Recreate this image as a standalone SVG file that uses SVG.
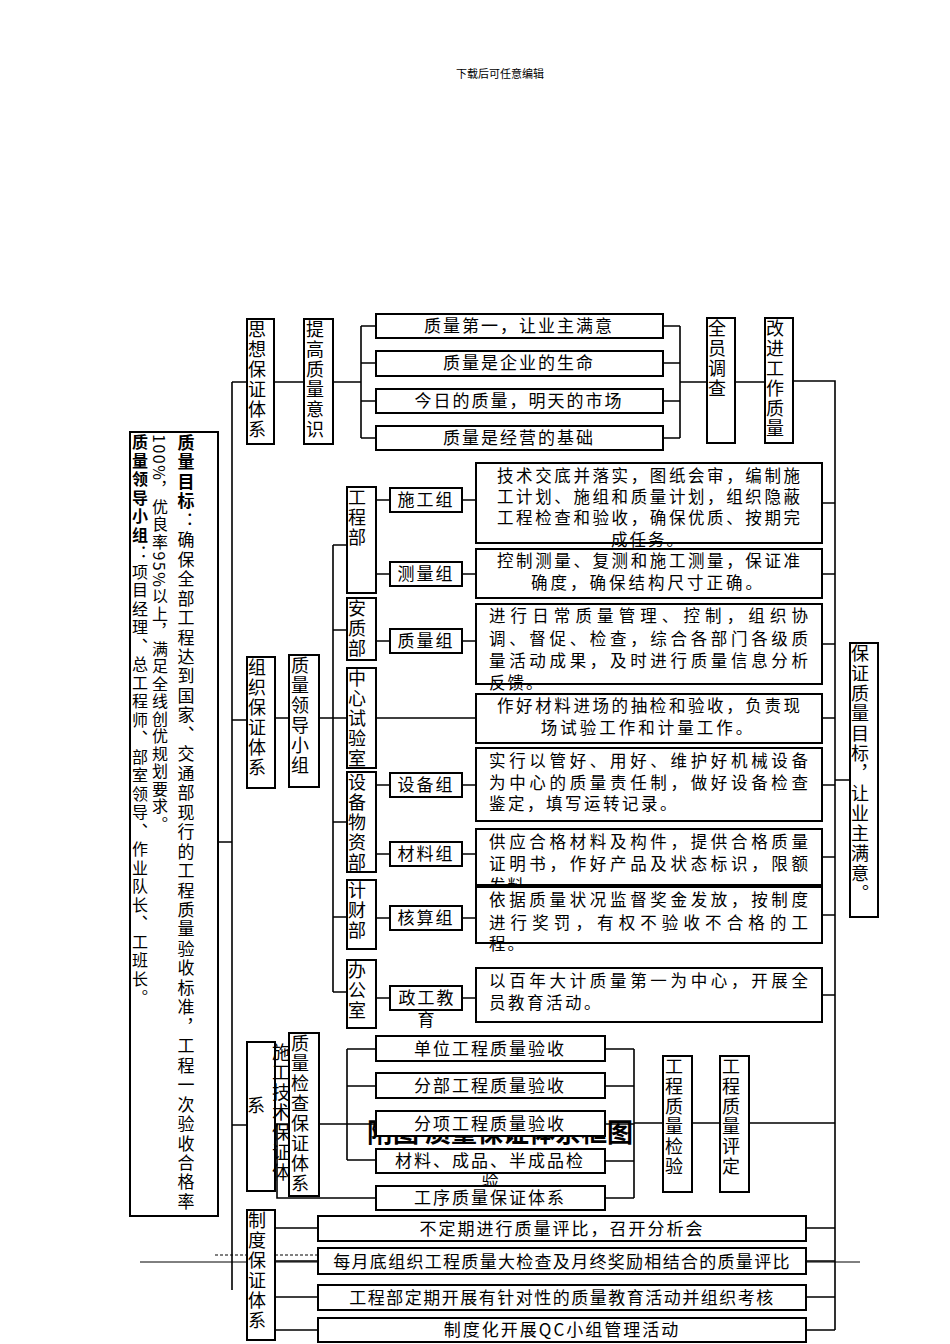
<svg xmlns="http://www.w3.org/2000/svg" width="950" height="1344" viewBox="0 0 950 1344">
<style>
text{font-family:"Noto Sans CJK SC","Noto Sans",sans-serif;fill:#000}
.b{fill:#fff;stroke:#000;stroke-width:2}
.l{fill:none;stroke:#000;stroke-width:1.6}
.h{font-size:17px;text-anchor:middle}
.t{font-size:16.5px}
.v{font-size:18px;writing-mode:vertical-rl;letter-spacing:2px}
.vs{font-size:16px;writing-mode:vertical-rl;letter-spacing:2px}
</style>
<rect width="950" height="1344" fill="#fff"/>
<text x="500" y="78" font-size="11" text-anchor="middle">下载后可任意编辑</text>
<text x="500" y="1142" font-size="26" font-weight="bold" text-anchor="middle">附图  质量保证体系框图</text>
<g id="footer">
<line x1="140" y1="1262" x2="860" y2="1262" stroke="#000" stroke-width="1"/>
<line x1="215" y1="1255" x2="320" y2="1255" stroke="#000" stroke-width="1" stroke-dasharray="3,2"/>
</g>
<g id="connectors" class="l">
<path d="M232 382V1290M218 842H232"/>
<path d="M232 382H247M274 382H304M333 382H361M361 326V438M361 326H376M361 363H376M361 401H376M361 438H376"/>
<path d="M663 326H680M663 363H680M663 401H680M663 438H680M680 326V438M680 382H707M735 382H765M793 381H835V1330"/>
<path d="M232 720H247M275 718H289M319 718H333M333 545V992"/>
<path d="M333 545H347M333 630H347M333 718H476M333 822H347M333 917H347M333 992H347"/>
<path d="M376 500H390M376 574H390M376 641H390M376 785H390M376 854H390M376 918H390M376 998H390"/>
<path d="M462 500H476M462 574H476M462 641H476M462 785H476M462 854H476M462 918H476M462 998H476"/>
<path d="M822 503H835M822 574H835M822 644H835M822 718H835M822 785H835M822 857H835M822 915H835M822 995H835M835 780H850"/>
<path d="M232 1125H247M275 1124H289M319 1124H347M347 1049V1160M347 1049H376M347 1086H376M347 1124H376M347 1160H376M277 1124V1198H376"/>
<path d="M605 1049H634M605 1086H634M605 1124H634M605 1161H634M605 1198H634M634 1049V1198M634 1123H663M692 1123H720M749 1123H835"/>
<path d="M275 1228H318M275 1261H318M275 1297H318M275 1330H318M806 1228H835M806 1261H835M806 1297H835M806 1330H835"/>
</g>
<g id="goal">
<rect class="b" x="130" y="432" width="88" height="784"/>
<text x="186" y="434" class="vs" textLength="776" lengthAdjust="spacing" style="letter-spacing:0;font-size:17px"><tspan font-weight="bold">质量目标</tspan>：确保全部工程达到国家、交通部现行的工程质量验收标准，工程一次验收合格率</text>
<text x="160" y="434" class="vs" style="letter-spacing:1.5px">100%，优良率95%以上，满足全线创优规划要求。</text>
<text x="140" y="434" class="vs" style="letter-spacing:2.5px"><tspan font-weight="bold">质量领导小组</tspan>：项目经理、总工程师、部室领导、作业队长、工班长。</text>
</g>
<g id="sixiang"><rect class="b" x="247" y="319" width="27" height="125"/><text x="257" y="320" class="v">思想保证体系</text></g>
<g id="tigao"><rect class="b" x="304" y="319" width="29" height="125"/><text x="315" y="320" class="v">提高质量意识</text></g>
<g id="s1"><rect class="b" x="376" y="314" width="287" height="24"/><text x="519" y="332" class="h" letter-spacing="2">质量第一，让业主满意</text></g>
<g id="s2"><rect class="b" x="376" y="351" width="287" height="25"/><text x="519" y="369" class="h" letter-spacing="2">质量是企业的生命</text></g>
<g id="s3"><rect class="b" x="376" y="389" width="287" height="24"/><text x="519" y="407" class="h" letter-spacing="2">今日的质量，明天的市场</text></g>
<g id="s4"><rect class="b" x="376" y="426" width="287" height="24"/><text x="519" y="444" class="h" letter-spacing="2">质量是经营的基础</text></g>
<g id="quanyuan"><rect class="b" x="707" y="318" width="28" height="125"/><text x="717" y="319" class="v">全员调查</text></g>
<g id="gaijin"><rect class="b" x="765" y="318" width="28" height="125"/><text x="775" y="319" class="v">改进工作质量</text></g>
<g id="zuzhi"><rect class="b" x="247" y="657" width="28" height="131"/><text x="257" y="658" class="v">组织保证体系</text></g>
<g id="lingdao"><rect class="b" x="289" y="655" width="30" height="132"/><text x="300" y="656" class="v">质量领导小组</text></g>
<g id="gcb"><rect class="b" x="347" y="487" width="29" height="106"/><text x="357" y="488" class="v">工程部</text></g>
<g id="azb"><rect class="b" x="347" y="598" width="29" height="62"/><text x="357" y="599" class="v">安质部</text></g>
<g id="syz"><rect class="b" x="347" y="668" width="29" height="100"/><text x="357" y="669" class="v">中心试验室</text></g>
<g id="sbwz"><rect class="b" x="347" y="772" width="29" height="100"/><text x="357" y="773" class="v">设备物资部</text></g>
<g id="jcb"><rect class="b" x="347" y="880" width="29" height="69"/><text x="357" y="881" class="v">计财部</text></g>
<g id="bgs"><rect class="b" x="347" y="960" width="29" height="68"/><text x="357" y="961" class="v">办公室</text></g>
<g id="g1"><rect class="b" x="390" y="488" width="72" height="24"/><text x="426" y="506" class="h" letter-spacing="2">施工组</text></g>
<g id="g2"><rect class="b" x="390" y="562" width="72" height="24"/><text x="426" y="580" class="h" letter-spacing="2">测量组</text></g>
<g id="g3"><rect class="b" x="390" y="629" width="72" height="24"/><text x="426" y="647" class="h" letter-spacing="2">质量组</text></g>
<g id="g4"><rect class="b" x="390" y="773" width="72" height="24"/><text x="426" y="791" class="h" letter-spacing="2">设备组</text></g>
<g id="g5"><rect class="b" x="390" y="842" width="72" height="24"/><text x="426" y="860" class="h" letter-spacing="2">材料组</text></g>
<g id="g6"><rect class="b" x="390" y="906" width="72" height="24"/><text x="426" y="924" class="h" letter-spacing="2">核算组</text></g>
<g id="g7"><rect class="b" x="390" y="986" width="72" height="24"/><text x="427" y="1004" class="h" letter-spacing="2">政工教</text><text x="426" y="1026" class="h">育</text></g>
<g id="d1"><rect class="b" x="476" y="463" width="346" height="80"/>
<text class="t" x="497" y="482" textLength="303" lengthAdjust="spacing">技术交底并落实，图纸会审，编制施</text>
<text class="t" x="497" y="503" textLength="303" lengthAdjust="spacing">工计划、施组和质量计划，组织隐蔽</text>
<text class="t" x="497" y="524" textLength="303" lengthAdjust="spacing">工程检查和验收，确保优质、按期完</text>
<text class="t" x="648" y="546" text-anchor="middle" letter-spacing="2">成任务。</text></g>
<g id="d2"><rect class="b" x="476" y="549" width="346" height="49"/>
<text class="t" x="497" y="567" textLength="303" lengthAdjust="spacing">控制测量、复测和施工测量，保证准</text>
<text class="t" x="648" y="589" text-anchor="middle" letter-spacing="3">确度，确保结构尺寸正确。</text></g>
<g id="d3"><rect class="b" x="476" y="604" width="346" height="80"/>
<text class="t" x="489" y="622" textLength="319" lengthAdjust="spacing">进行日常质量管理、控制，组织协</text>
<text class="t" x="489" y="645" textLength="319" lengthAdjust="spacing">调、督促、检查，综合各部门各级质</text>
<text class="t" x="489" y="667" textLength="319" lengthAdjust="spacing">量活动成果，及时进行质量信息分析</text>
<text class="t" x="489" y="689" letter-spacing="2">反馈。</text></g>
<g id="d4"><rect class="b" x="476" y="694" width="346" height="49"/>
<text class="t" x="497" y="712" textLength="303" lengthAdjust="spacing">作好材料进场的抽检和验收，负责现</text>
<text class="t" x="648" y="734" text-anchor="middle" letter-spacing="3">场试验工作和计量工作。</text></g>
<g id="d5"><rect class="b" x="476" y="748" width="346" height="73"/>
<text class="t" x="489" y="767" textLength="319" lengthAdjust="spacing">实行以管好、用好、维护好机械设备</text>
<text class="t" x="489" y="789" textLength="319" lengthAdjust="spacing">为中心的质量责任制，做好设备检查</text>
<text class="t" x="489" y="810" letter-spacing="2.5">鉴定，填写运转记录。</text></g>
<g id="d6"><rect class="b" x="476" y="829" width="346" height="56"/>
<text class="t" x="489" y="848" textLength="319" lengthAdjust="spacing">供应合格材料及构件，提供合格质量</text>
<text class="t" x="489" y="870" textLength="319" lengthAdjust="spacing">证明书，作好产品及状态标识，限额</text>
<text class="t" x="489" y="892" letter-spacing="2">发料</text></g>
<g id="d7"><rect class="b" x="476" y="887" width="346" height="56"/>
<text class="t" x="489" y="906" textLength="319" lengthAdjust="spacing">依据质量状况监督奖金发放，按制度</text>
<text class="t" x="489" y="929" textLength="319" lengthAdjust="spacing">进行奖罚，有权不验收不合格的工</text>
<text class="t" x="489" y="950" letter-spacing="2">程。</text></g>
<g id="d8"><rect class="b" x="476" y="968" width="346" height="54"/>
<text class="t" x="489" y="987" textLength="319" lengthAdjust="spacing">以百年大计质量第一为中心，开展全</text>
<text class="t" x="489" y="1009" letter-spacing="2.5">员教育活动。</text></g>
<g id="baozheng"><rect class="b" x="850" y="643" width="28" height="274"/><text x="860" y="644" class="v">保证质量目标，让业主满意。</text></g>
<g id="shigong"><rect class="b" x="247" y="1042" width="28" height="149"/><text x="281" y="1043" class="v">施工技术保证体</text><text x="256" y="1096" class="v">系</text></g>
<g id="jiancha"><rect class="b" x="289" y="1033" width="30" height="163"/><text x="300" y="1034" class="v">质量检查保证体系</text></g>
<g id="c1"><rect class="b" x="376" y="1036" width="229" height="25"/><text x="490" y="1055" class="h" letter-spacing="2">单位工程质量验收</text></g>
<g id="c2"><rect class="b" x="376" y="1073" width="229" height="25"/><text x="490" y="1092" class="h" letter-spacing="2">分部工程质量验收</text></g>
<g id="c3"><rect class="b" x="376" y="1111" width="229" height="25"/><text x="490" y="1130" class="h" letter-spacing="2">分项工程质量验收</text></g>
<g id="c4"><rect class="b" x="376" y="1149" width="229" height="24"/><text x="490" y="1167" class="h" letter-spacing="2">材料、成品、半成品检</text><text x="490" y="1187" class="h">验</text></g>
<g id="c5"><rect class="b" x="376" y="1186" width="229" height="24"/><text x="490" y="1204" class="h" letter-spacing="2">工序质量保证体系</text></g>
<g id="jianyan"><rect class="b" x="663" y="1056" width="29" height="136"/><text x="674" y="1057" class="v">工程质量检验</text></g>
<g id="pingding"><rect class="b" x="720" y="1056" width="29" height="136"/><text x="731" y="1057" class="v">工程质量评定</text></g>
<g id="zhidu"><rect class="b" x="247" y="1210" width="28" height="130"/><text x="257" y="1211" class="v">制度保证体系</text></g>
<g id="z1"><rect class="b" x="318" y="1216" width="488" height="25"/><text x="562" y="1235" class="h" letter-spacing="2">不定期进行质量评比，召开分析会</text></g>
<g id="z2"><rect class="b" x="318" y="1248" width="488" height="26"/><text x="562" y="1268" class="h" letter-spacing="1.3">每月底组织工程质量大检查及月终奖励相结合的质量评比</text></g>
<g id="z3"><rect class="b" x="318" y="1285" width="488" height="25"/><text x="562" y="1304" class="h" letter-spacing="1.5">工程部定期开展有针对性的质量教育活动并组织考核</text></g>
<g id="z4"><rect class="b" x="318" y="1318" width="488" height="24"/><text x="562" y="1336" class="h" letter-spacing="2">制度化开展QC小组管理活动</text></g>
</svg>
